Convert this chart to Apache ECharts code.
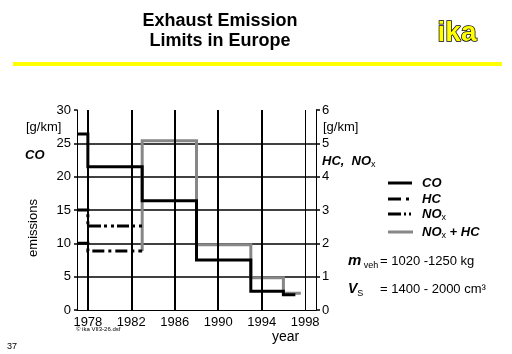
<!DOCTYPE html>
<html>
<head>
<meta charset="utf-8">
<script src="https://cdn.jsdelivr.net/npm/echarts@6/dist/echarts.min.js"></script>
<style>html,body{margin:0;padding:0;background:#fff}#c{width:512px;height:354px}</style>
</head>
<body>
<div id="c"></div>
<script>
// ---- data ----
const coYears = [1977, 1978, 1983, 1988, 1993, 1996];
const coValues = [26.4, 21.5, 16.4, 7.5, 2.8, 2.3];      // g/km, left axis
const coEnd = 1997.1;
const hcYears = [1977, 1978];
const hcValues = [2.0, 1.77];                              // g/km, right axis
const hcEnd = 1983;
const noxYears = [1977, 1978];
const noxValues = [3.0, 2.52];                             // g/km, right axis
const noxEnd = 1983;
const noxHcYears = [1983, 1983, 1988, 1993, 1996];
const noxHcValues = [1.77, 5.08, 1.96, 0.97, 0.5];         // g/km, right axis
const noxHcEnd = 1997.6;
const xTickLabels = [1978, 1982, 1986, 1990, 1994, 1998];
const leftTicks = [0, 5, 10, 15, 20, 25, 30];
const rightTicks = [0, 1, 2, 3, 4, 5, 6];

function stepPoints(years, values, end) {
  const pts = years.map((y, i) => [y, values[i]]);
  pts.push([end, values[values.length - 1]]);
  return pts;
}

const FF = 'Liberation Sans, Arial, sans-serif';
const chart = echarts.init(document.getElementById('c'), null, {renderer: 'canvas'});

const option = {
  animation: false,
  backgroundColor: '#fff',
  grid: {left: 77, right: 196, top: 110, bottom: 44},
  xAxis: {
    type: 'value', min: 1977, max: 1999, interval: 1,
    axisLine: {show: true, lineStyle: {color: '#000', width: 1}},
    axisTick: {show: false},
    splitLine: {show: false},
    axisLabel: {
      color: '#000', fontSize: 13, fontFamily: FF, margin: 6,
      formatter: v => xTickLabels.includes(v) ? String(v) : ''
    }
  },
  yAxis: [{
    type: 'value', min: leftTicks[0], max: leftTicks[leftTicks.length - 1], interval: 5,
    position: 'left',
    axisLine: {show: true, lineStyle: {color: '#000', width: 1}},
    axisTick: {show: true, length: 3, lineStyle: {color: '#000', width: 1.5}},
    axisLabel: {color: '#000', fontSize: 13, fontFamily: FF, margin: 6},
    splitLine: {show: true, showMinLine: false, showMaxLine: false, lineStyle: {color: '#000', width: 1.5}}
  }, {
    type: 'value', min: rightTicks[0], max: rightTicks[rightTicks.length - 1], interval: 1,
    position: 'right',
    axisLine: {show: true, lineStyle: {color: '#000', width: 1}},
    axisTick: {show: true, length: 4, lineStyle: {color: '#000', width: 1.5}},
    axisLabel: {color: '#000', fontSize: 13, fontFamily: FF, margin: 6},
    splitLine: {show: false}
  }],
  series: [{
    name: 'grid', type: 'line', data: [], z: 1,
    markLine: {
      silent: true, symbol: ['none', 'none'], label: {show: false}, animation: false,
      lineStyle: {color: '#000', width: 2, type: 'solid'},
      emphasis: {disabled: true},
      data: xTickLabels.map(y => ({xAxis: y, lineStyle: {color: '#000', width: y === 1998 ? 1 : 2, type: 'solid'}}))
    }
  }, {
    name: 'NOx + HC', type: 'line', yAxisIndex: 1, step: 'end', showSymbol: false, symbol: 'none', z: 3,
    data: stepPoints(noxHcYears, noxHcValues, noxHcEnd),
    lineStyle: {color: '#878787', width: 3, cap: 'butt', join: 'miter'}
  }, {
    name: 'HC', type: 'line', yAxisIndex: 1, step: 'end', showSymbol: false, symbol: 'none', z: 4,
    data: stepPoints(hcYears, hcValues, hcEnd),
    lineStyle: {color: '#000', width: 3, type: [12, 4, 3, 4], cap: 'butt', join: 'miter'}
  }, {
    name: 'NOx', type: 'line', yAxisIndex: 1, step: 'end', showSymbol: false, symbol: 'none', z: 4,
    data: stepPoints(noxYears, noxValues, noxEnd),
    lineStyle: {color: '#000', width: 3, type: [12, 3, 3, 4, 3, 3], cap: 'butt', join: 'miter'}
  }, {
    name: 'CO', type: 'line', yAxisIndex: 0, step: 'end', showSymbol: false, symbol: 'none', z: 5,
    data: stepPoints(coYears, coValues, coEnd),
    lineStyle: {color: '#000', width: 3, cap: 'butt', join: 'miter'}
  }],
  graphic: [
    // title
    {type: 'text', x: 220, y: 21, style: {text: 'Exhaust Emission', font: 'bold 18px ' + FF, fill: '#000', align: 'center', verticalAlign: 'middle'}},
    {type: 'text', x: 220, y: 41, style: {text: 'Limits in Europe', font: 'bold 18px ' + FF, fill: '#000', align: 'center', verticalAlign: 'middle'}},
    {type: 'text', x: 457, y: 33, style: {text: 'ika', font: 'bold 28px ' + FF, fill: '#ffff00', stroke: '#000', lineWidth: 1.5, align: 'center', verticalAlign: 'middle'}},
    {type: 'rect', shape: {x: 13, y: 62, width: 489, height: 4}, style: {fill: '#ffff00'}},
    // left axis texts
    {type: 'text', x: 26, y: 127, style: {text: '[g/km]', font: '13px ' + FF, fill: '#000', align: 'left', verticalAlign: 'middle'}},
    {type: 'text', x: 25, y: 155, style: {text: 'CO', font: 'italic bold 13px ' + FF, fill: '#000', align: 'left', verticalAlign: 'middle'}},
    {type: 'text', x: 33, y: 228, rotation: Math.PI / 2, style: {text: 'emissions', font: '13px ' + FF, fill: '#000', align: 'center', verticalAlign: 'middle'}},
    // right axis texts
    {type: 'text', x: 323, y: 127, style: {text: '[g/km]', font: '13px ' + FF, fill: '#000', align: 'left', verticalAlign: 'middle'}},
    {type: 'text', x: 322, y: 161, style: {
      text: '{b|HC,  NO}{s|x}', align: 'left', verticalAlign: 'middle',
      rich: {b: {font: 'italic bold 13px ' + FF, fill: '#000', lineHeight: 16}, s: {font: '9px ' + FF, fill: '#000', lineHeight: 9, verticalAlign: 'bottom'}}
    }},
    // legend
    {type: 'line', shape: {x1: 388, y1: 183, x2: 412, y2: 183}, style: {stroke: '#000', lineWidth: 3}},
    {type: 'line', shape: {x1: 388, y1: 199, x2: 412, y2: 199}, style: {stroke: '#000', lineWidth: 3, lineDash: [13, 5, 3, 4]}},
    {type: 'line', shape: {x1: 388, y1: 214, x2: 412, y2: 214}, style: {stroke: '#000', lineWidth: 3, lineDash: [13, 3, 2, 3, 2, 4]}},
    {type: 'line', shape: {x1: 388, y1: 232, x2: 413, y2: 232}, style: {stroke: '#878787', lineWidth: 3}},
    {type: 'text', x: 422, y: 183, style: {text: 'CO', font: 'italic bold 13px ' + FF, fill: '#000', verticalAlign: 'middle'}},
    {type: 'text', x: 422, y: 199, style: {text: 'HC', font: 'italic bold 13px ' + FF, fill: '#000', verticalAlign: 'middle'}},
    {type: 'text', x: 422, y: 214, style: {
      text: '{b|NO}{s|x}', verticalAlign: 'middle',
      rich: {b: {font: 'italic bold 13px ' + FF, fill: '#000', lineHeight: 16}, s: {font: '9px ' + FF, fill: '#000', lineHeight: 9, verticalAlign: 'bottom'}}
    }},
    {type: 'text', x: 422, y: 232, style: {
      text: '{b|NO}{s|x}{b| + HC}', verticalAlign: 'middle',
      rich: {b: {font: 'italic bold 13px ' + FF, fill: '#000', lineHeight: 16}, s: {font: '9px ' + FF, fill: '#000', lineHeight: 9, verticalAlign: 'bottom'}}
    }},
    // vehicle info
    {type: 'text', x: 348, y: 261, style: {
      text: '{b|m}{s| veh}', verticalAlign: 'middle',
      rich: {b: {font: 'italic bold 15px ' + FF, fill: '#000', lineHeight: 18}, s: {font: '9px ' + FF, fill: '#000', lineHeight: 9, verticalAlign: 'bottom'}}
    }},
    {type: 'text', x: 380, y: 261, style: {text: '= 1020 -1250 kg', font: '13px ' + FF, fill: '#000', verticalAlign: 'middle'}},
    {type: 'text', x: 348, y: 289, style: {
      text: '{b|V}{s|S}', verticalAlign: 'middle',
      rich: {b: {font: 'italic bold 14px ' + FF, fill: '#000', lineHeight: 18}, s: {font: '9px ' + FF, fill: '#000', lineHeight: 9, verticalAlign: 'bottom'}}
    }},
    {type: 'text', x: 380, y: 289, style: {text: '= 1400 - 2000 cm³', font: '13px ' + FF, fill: '#000', verticalAlign: 'middle'}},
    // bottom texts
    {type: 'text', x: 272, y: 337, style: {text: 'year', font: '14px ' + FF, fill: '#000', verticalAlign: 'middle'}},
    {type: 'text', x: 76, y: 329, style: {text: '© ika VII3-26.dsf', font: '6px ' + FF, fill: '#000', verticalAlign: 'middle'}},
    {type: 'text', x: 7, y: 347, style: {text: '37', font: '9px ' + FF, fill: '#000', verticalAlign: 'middle'}}
  ]
};
chart.setOption(option);
</script>
</body>
</html>
